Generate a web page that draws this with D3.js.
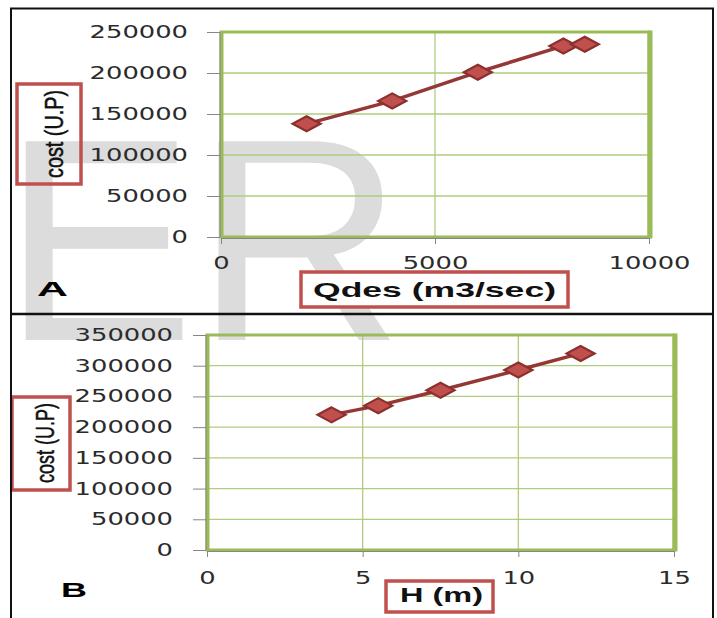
<!DOCTYPE html>
<html>
<head>
<meta charset="utf-8">
<script src="https://cdn.jsdelivr.net/npm/d3@7"></script>
<style>
  body { margin: 0; background: #ffffff; }
  svg { display: block; }
</style>
</head>
<body>
<svg id="chart" width="717" height="618"></svg>
<script>
// Panel A: design discharge against cost
const qdesValues = [2000, 4000, 6000, 8000, 8500];
const costA = [138000, 166000, 201000, 233000, 235000];
const ticksAx = [0, 5000, 10000];
const ticksAy = [0, 50000, 100000, 150000, 200000, 250000];

// Panel B: head against cost
const headValues = [4, 5.5, 7.5, 10, 12];
const costB = [220000, 235000, 260000, 293000, 320000];
const ticksBx = [0, 5, 10, 15];
const ticksBy = [0, 50000, 100000, 150000, 200000, 250000, 300000, 350000];

const svg = d3.select("#chart");
const FRAME_GREEN = "#9bbb59";
const GRID_GREEN = "#b0cd80";
const LINE_RED = "#953735";
const MARK_RED = "#c0504d";
const AXIS_GRAY = "#868686";
const TICK_FONT = "DejaVu Sans, Verdana, sans-serif";
const LABEL_FONT = "Liberation Sans, Arial, sans-serif";
const CHAR_W = 16.4;

svg.append("rect").attr("width", 717).attr("height", 618).attr("fill", "#fff");

// large light-grey lettering behind both panels
svg.append("text")
  .attr("x", 2).attr("y", 340)
  .attr("font-family", LABEL_FONT)
  .attr("font-size", 289)
  .attr("fill", "#dcdcdc")
  .text("ER");

function panel(cfg) {
  const g = svg.append("g");
  const x = d3.scaleLinear().domain(cfg.xDomain).range([cfg.left, cfg.right]);
  const y = d3.scaleLinear().domain(cfg.yDomain).range([cfg.bottom, cfg.top]);

  // grid
  g.append("g").selectAll("line.hg")
    .data(cfg.yTicks.filter(v => v !== cfg.yDomain[0] && v !== cfg.yDomain[1]))
    .join("line")
    .attr("x1", cfg.left).attr("x2", cfg.right)
    .attr("y1", d => y(d)).attr("y2", d => y(d))
    .attr("stroke", GRID_GREEN).attr("stroke-width", 1.3);
  g.append("g").selectAll("line.vg")
    .data(cfg.xTicks.filter(v => v !== cfg.xDomain[0] && v !== cfg.xDomain[1]))
    .join("line")
    .attr("y1", cfg.top).attr("y2", cfg.bottom)
    .attr("x1", d => x(d)).attr("x2", d => x(d))
    .attr("stroke", GRID_GREEN).attr("stroke-width", 1.3);

  // plot frame
  g.append("rect")
    .attr("x", cfg.left).attr("y", cfg.top)
    .attr("width", cfg.right - cfg.left).attr("height", cfg.bottom - cfg.top)
    .attr("fill", "none").attr("stroke", FRAME_GREEN).attr("stroke-width", 3);
  g.append("line")
    .attr("x1", cfg.right + 1).attr("x2", cfg.right + 1)
    .attr("y1", cfg.top - 1.5).attr("y2", cfg.bottom + 1.5)
    .attr("stroke", FRAME_GREEN).attr("stroke-width", 5);
  g.append("line")
    .attr("x1", cfg.left + 1.5).attr("x2", cfg.left + 1.5)
    .attr("y1", cfg.top).attr("y2", cfg.bottom)
    .attr("stroke", FRAME_GREEN).attr("stroke-width", 2);

  // axes
  const yAxis = d3.axisLeft(y).tickValues(cfg.yTicks).tickFormat(d3.format("d"))
    .tickSize(13).tickPadding(cfg.yPad);
  const xAxis = d3.axisBottom(x).tickValues(cfg.xTicks).tickFormat(d3.format("d"))
    .tickSize(6).tickPadding(cfg.xPad);

  const ya = g.append("g").attr("transform", `translate(${cfg.left - 1},0)`).call(yAxis);
  const xa = g.append("g").attr("transform", `translate(0,${cfg.bottom + 1})`).call(xAxis);
  [ya, xa].forEach(a => {
    a.select(".domain").attr("stroke", AXIS_GRAY).attr("stroke-width", 1);
    a.selectAll(".tick line").attr("stroke", AXIS_GRAY).attr("stroke-width", 1);
    a.selectAll(".tick text")
      .attr("font-family", TICK_FONT)
      .attr("font-size", 17)
      .attr("fill", "#2b2b2b")
      .attr("textLength", function () { return this.textContent.length * CHAR_W; })
      .attr("lengthAdjust", "spacingAndGlyphs");
  });
  ya.select(".domain").attr("d", `M0,${cfg.top}V${cfg.bottom}`);

  // series line
  const pts = cfg.xs.map((v, i) => [v, cfg.ys[i]]);
  g.append("path")
    .datum(pts)
    .attr("d", d3.line().x(d => x(d[0])).y(d => y(d[1])))
    .attr("fill", "none")
    .attr("stroke", LINE_RED)
    .attr("stroke-width", 3.5)
    .attr("stroke-linejoin", "round");

  // diamond markers
  g.append("g").selectAll("path")
    .data(pts)
    .join("path")
    .attr("transform", d => `translate(${x(d[0])},${y(d[1])})`)
    .attr("d", "M0,-7.5L14,0L0,7.5L-14,0Z")
    .attr("fill", MARK_RED)
    .attr("stroke", "#8c2f2d")
    .attr("stroke-width", 2.2)
    .attr("stroke-linejoin", "miter");

  // y-axis title in a red box
  g.append("rect")
    .attr("x", cfg.yBox[0]).attr("y", cfg.yBox[1])
    .attr("width", cfg.yBox[2]).attr("height", cfg.yBox[3])
    .attr("fill", "none").attr("stroke", MARK_RED).attr("stroke-width", 3.5);
  g.append("text")
    .attr("transform", `translate(${cfg.yTitle[0]},${cfg.yTitle[1]}) rotate(-90)`)
    .attr("text-anchor", "middle")
    .attr("font-family", LABEL_FONT)
    .attr("font-size", cfg.yTitle[3])
    .attr("fill", "#111")
    .attr("stroke", "#111")
    .attr("stroke-width", 0.5)
    .attr("textLength", cfg.yTitle[2])
    .attr("lengthAdjust", "spacingAndGlyphs")
    .text("cost (U.P)");

  // x-axis title in a red box
  g.append("rect")
    .attr("x", cfg.xBox[0]).attr("y", cfg.xBox[1])
    .attr("width", cfg.xBox[2]).attr("height", cfg.xBox[3])
    .attr("fill", "#fff").attr("stroke", MARK_RED).attr("stroke-width", 3.5);
  g.append("text")
    .attr("x", cfg.xTitle[0]).attr("y", cfg.xTitle[1])
    .attr("font-family", LABEL_FONT)
    .attr("font-weight", "bold")
    .attr("font-size", cfg.xTitle[3])
    .attr("fill", "#111")
    .attr("textLength", cfg.xTitle[2])
    .attr("lengthAdjust", "spacingAndGlyphs")
    .text(cfg.xLabel);

  // panel letter
  g.append("text")
    .attr("x", cfg.letter[0]).attr("y", cfg.letter[1])
    .attr("font-family", LABEL_FONT)
    .attr("font-weight", "bold")
    .attr("font-size", 21)
    .attr("fill", "#000")
    .attr("textLength", cfg.letter[2])
    .attr("lengthAdjust", "spacingAndGlyphs")
    .text(cfg.letterText);
}

panel({
  xDomain: [0, 10000], yDomain: [0, 250000],
  left: 221, right: 649, top: 32, bottom: 237,
  xTicks: ticksAx, yTicks: ticksAy, yPad: 19, xPad: 13,
  xs: qdesValues, ys: costA,
  yBox: [17, 84, 64, 100], yTitle: [63, 134, 88, 25],
  xBox: [301, 272, 267, 35], xTitle: [313, 297, 243, 21], xLabel: "Qdes (m3/sec)",
  letter: [37, 296, 31], letterText: "A"
});

panel({
  xDomain: [0, 15], yDomain: [0, 350000],
  left: 207, right: 674, top: 335, bottom: 550,
  xTicks: ticksBx, yTicks: ticksBy, yPad: 20, xPad: 15,
  xs: headValues, ys: costB,
  yBox: [12, 397, 58, 93], yTitle: [54, 443, 80, 25],
  xBox: [386, 581, 107, 31], xTitle: [400, 602, 83, 20], xLabel: "H (m)",
  letter: [61, 597, 26], letterText: "B"
});

// outer panel borders
const border = svg.append("g").attr("stroke", "#111").attr("fill", "none");
border.append("line").attr("x1", 10).attr("x2", 714).attr("y1", 8.5).attr("y2", 8.5).attr("stroke-width", 2);
border.append("line").attr("x1", 11).attr("x2", 11).attr("y1", 8).attr("y2", 618).attr("stroke-width", 2);
border.append("line").attr("x1", 713).attr("x2", 713).attr("y1", 8).attr("y2", 618).attr("stroke-width", 2);
border.append("line").attr("x1", 10).attr("x2", 714).attr("y1", 314).attr("y2", 314).attr("stroke-width", 2.5);
</script>
</body>
</html>
